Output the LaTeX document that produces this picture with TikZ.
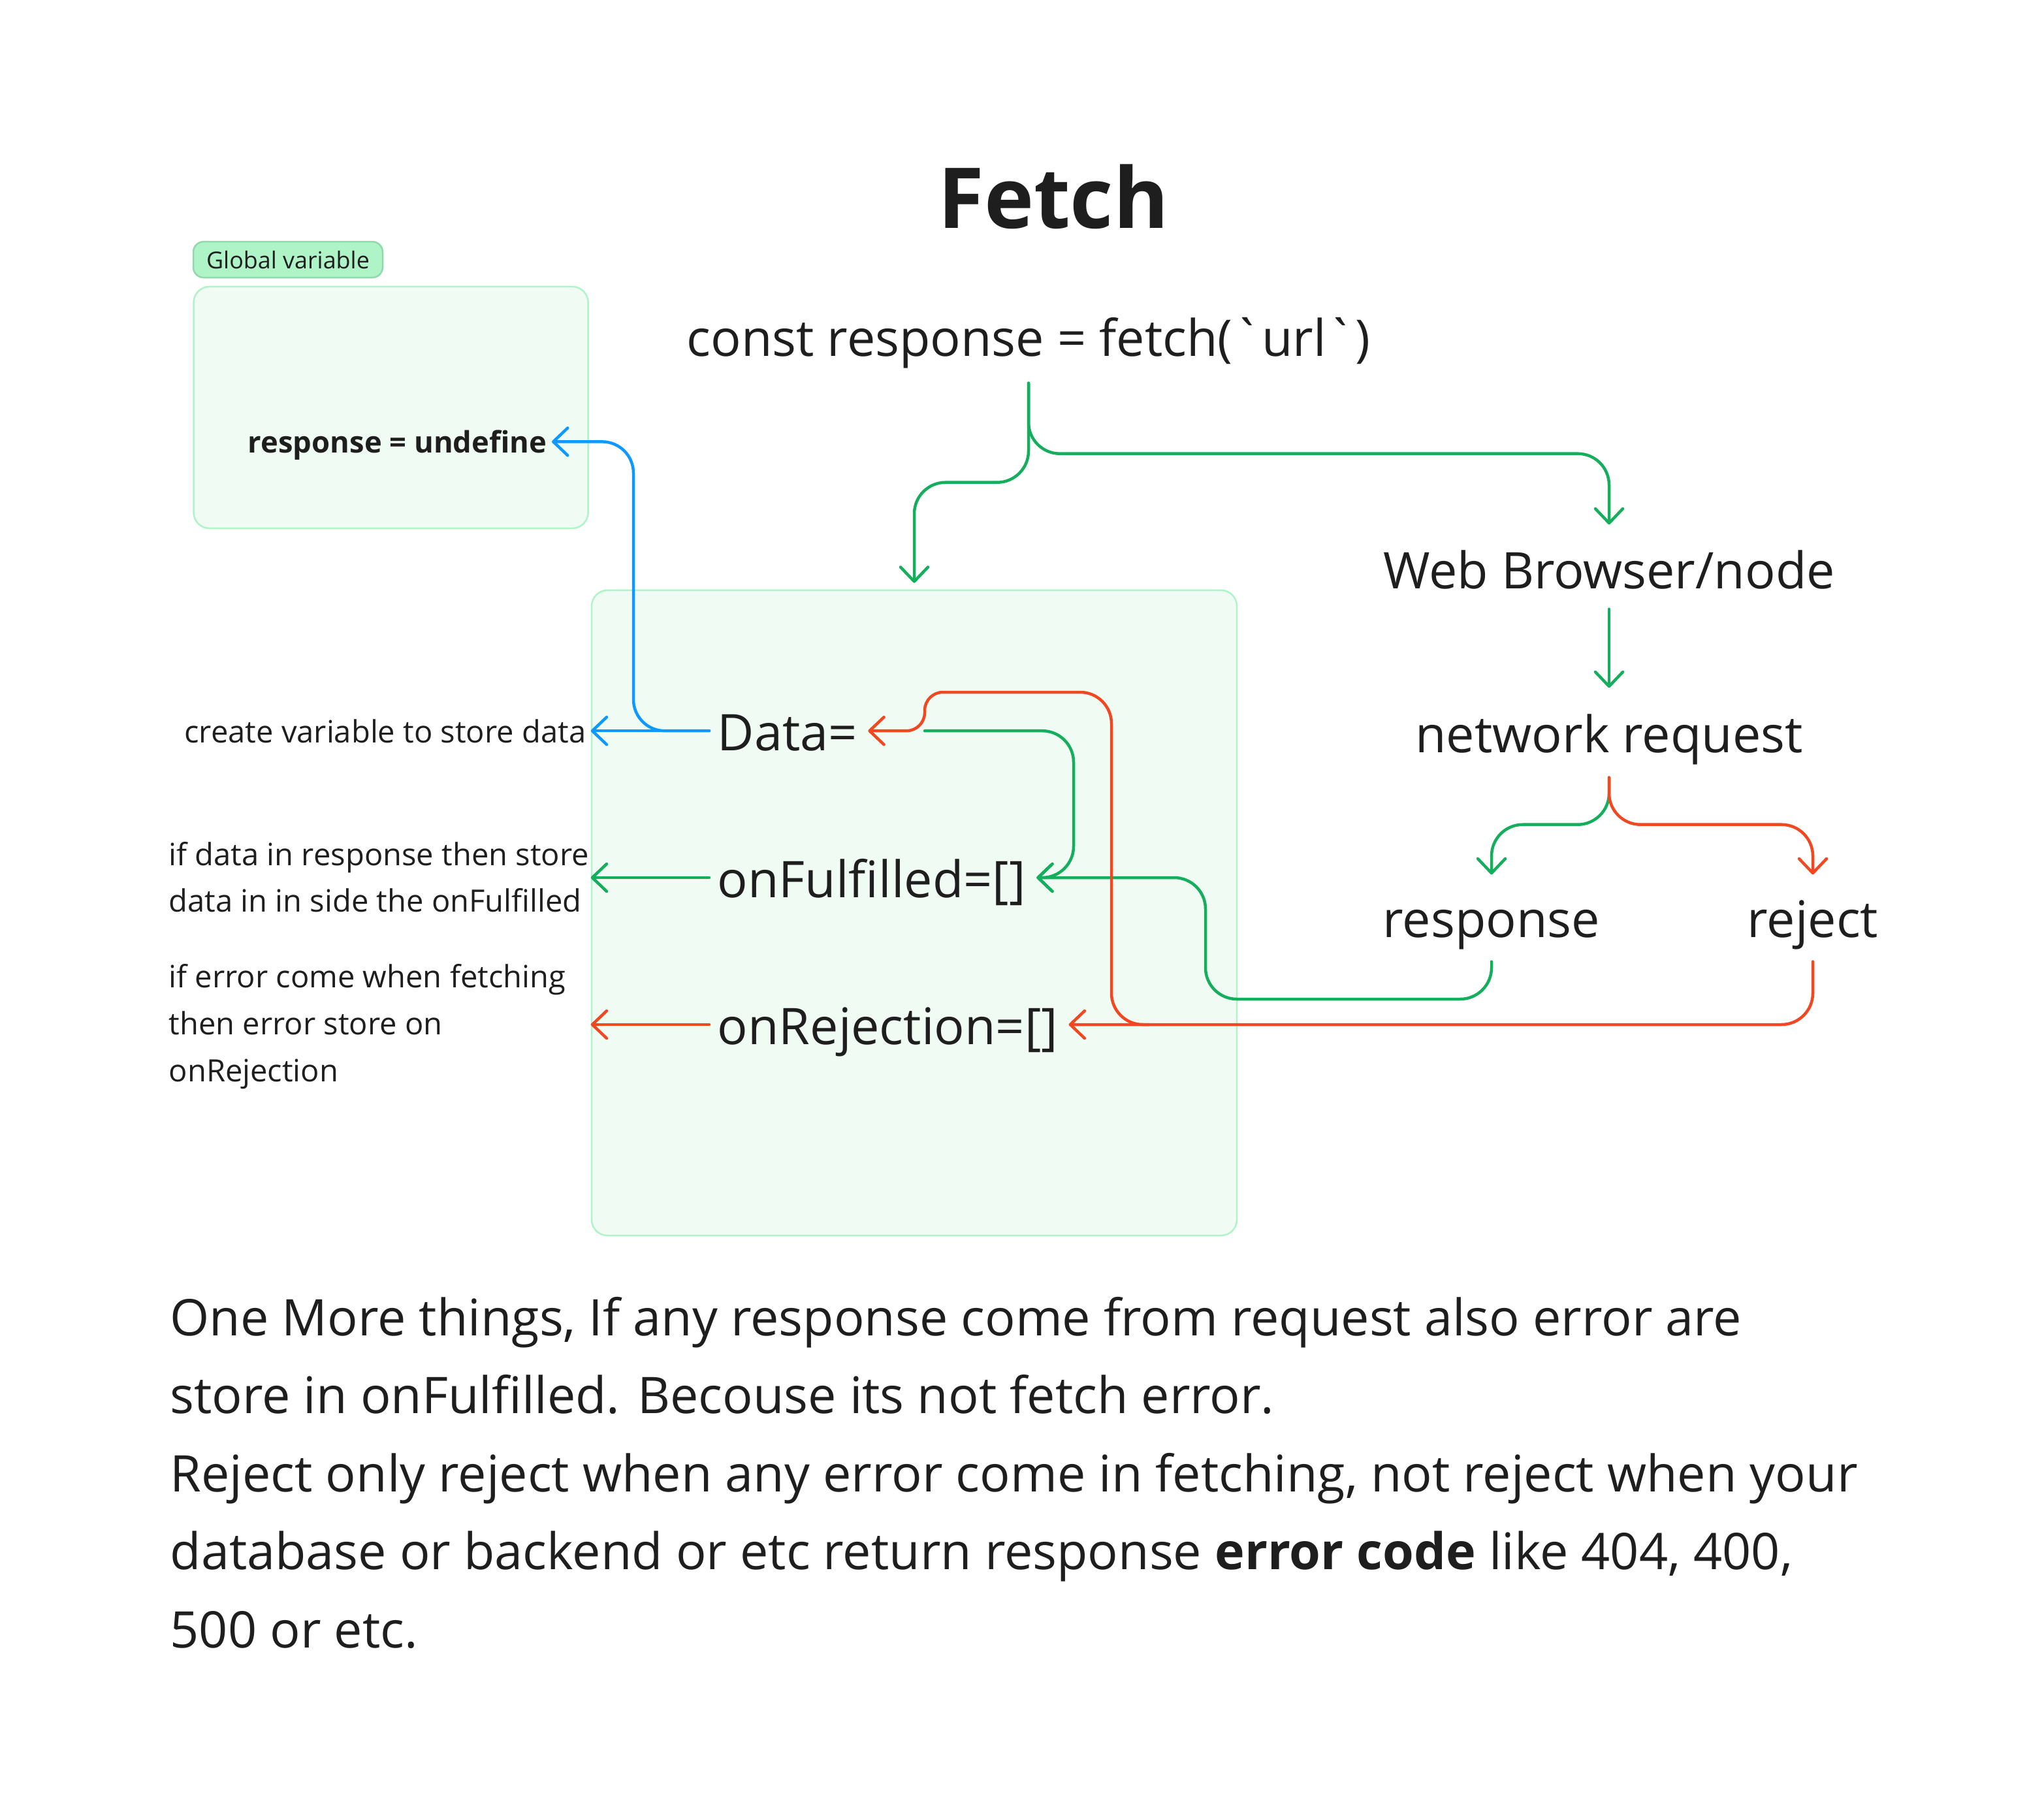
\documentclass[tikz,border=0pt]{standalone}
\usepackage{fontspec}
\setmainfont{Open Sans}
\usetikzlibrary{arrows.meta}
\definecolor{ink}{HTML}{1E1E1E}
\definecolor{figgreen}{HTML}{14AE5C}
\definecolor{figred}{HTML}{F24822}
\definecolor{figblue}{HTML}{0D99FF}
\definecolor{boxfill}{HTML}{F0FCF3}
\definecolor{boxline}{HTML}{AFF4C6}
\definecolor{tagfill}{HTML}{AFF4C6}
\definecolor{tagline}{HTML}{8FD9AA}

\begin{document}
\begin{tikzpicture}[x=0.2mm,y=-0.2mm]

% styles for labels, boxes and wires
\tikzset{
  lbl/.style={inner sep=0pt, text height=6mm, text depth=0pt, text=ink,
    font=\fontsize{22}{26}\selectfont},
  note/.style={inner sep=0pt, text=ink, align=left,
    font=\fontsize{13.4}{20.4}\selectfont},
  varbox/.style={draw=boxline, fill=boxfill, line width=0.25mm,
    rounded corners=2.4mm, inner sep=0pt},
  wire/.style={line width=0.45mm, line cap=round, rounded corners=4.8mm,
    -{Straight Barb[length=2.2mm,width=4.2mm,round]}},
  gwire/.style={wire, draw=figgreen},
  rwire/.style={wire, draw=figred},
  bwire/.style={wire, draw=figblue},
}

\fill[white] (0,0) rectangle (1565,1390.5);
\useasboundingbox (0,0) rectangle (1565,1390.5);

% ---------------- boxes ----------------
\node[varbox, minimum width=60.4mm, minimum height=37mm] (globbox) at (299.3,312) {};
\node[draw=tagline, fill=tagfill, line width=0.25mm, rounded corners=1.6mm,
  minimum width=29mm, minimum height=5.5mm, inner sep=0pt, text=ink,
  font=\fontsize{10.2}{12}\selectfont] (tag) at (220.5,198.8) {Global variable};
\node[varbox, minimum width=98.8mm, minimum height=98.8mm] (mainbox) at (700,699) {};

% ---------------- texts ----------------
\node[anchor=base, inner sep=0pt, text=ink,
  font=\bfseries\fontsize{36.6}{40}\selectfont] (title) at (806.5,174.8) {Fetch};
\node[lbl, anchor=base] (fetchcode) at (787.5,273) {const response = fetch(\textasciigrave url\textasciigrave)};
\node[lbl, anchor=base] (web) at (1232,450.5) {Web Browser/node};
\node[lbl, anchor=base] (netreq) at (1232,576) {network request};
\node[lbl, anchor=base] (resp) at (1142,717.5) {response};
\node[lbl, anchor=base] (rej) at (1388,717.5) {reject};

\node[lbl, anchor=base west] (data) at (549,574.6) {Data=};
\node[lbl, anchor=base west] (onful) at (549,687) {onFulfilled=[]};
\node[lbl, anchor=base west] (onrej) at (549,799.5) {onRejection=[]};

\node[anchor=base east, inner sep=0pt, text height=3.4mm, text depth=0pt, text=ink,
  font=\bfseries\fontsize{12.9}{15}\selectfont] (undef) at (419,346.7) {response = undefine};

% notes: multi-line nodes sit on the baseline of their last line
\node[note, anchor=base east] (createnote) at (449,568.8) {create variable to store data};
\node[note, anchor=base west] (fulnote) at (129,698.4) {if data in response then store\\data in in side the onFulfilled};
\node[note, anchor=base west] (rejnote) at (129,828) {if error come when fetching\\then error store on\\onRejection};

\node[anchor=base west, align=left, inner sep=0pt, text=ink,
  font=\fontsize{22}{34}\selectfont] (moretext) at (130,1261.6) {%
  One More things, If any response come from request also error are\\
  store in onFulfilled. Becouse its not fetch error.\\
  Reject only reject when any error come in fetching, not reject when your\\
  database or backend or etc return response \textbf{error code} like 404, 400,\\
  500 or etc.};

% ---------------- wires ----------------
\coordinate (gback) at (923,765);
\coordinate (gloop) at (822,0);
\coordinate (rloop) at (851,530);
\coordinate (rstep) at (708,0);
\coordinate (rjoin) at (880,0);
\coordinate (bup) at (485,0);

% fetch -> main box and web browser
\draw[gwire, shorten <=4mm, shorten >=1mm] (fetchcode.south) -- ++(0,96) -| (mainbox.north);
\draw[gwire, shorten <=4mm, shorten >=3.7mm] (fetchcode.south) -- ++(0,74) -| (web.north);
\draw[gwire, shorten <=3.1mm, shorten >=3.8mm] (web.south) -- (netreq.north);

% network request -> response / reject
\draw[gwire, shorten <=3.8mm, shorten >=3.5mm] (netreq.south) -- ++(0,55) -| (resp.north);
\draw[rwire, shorten <=3.8mm, shorten >=3.5mm] (netreq.south) -- ++(0,55) -| (rej.north);

% response -> onFulfilled, reject -> onRejection
\draw[gwire, shorten <=3.7mm, shorten >=1.6mm] (resp.south) |- (gback) |- (onful.east);
\draw[rwire, shorten <=3.7mm, shorten >=1.6mm] (rej.south) |- (onrej.east);

% loops round the variables
\draw[gwire, shorten >=1.6mm] (data.east -| rstep) -| (gloop |- onful.east) -- (onful.east);
\draw[rwire, shorten >=1.6mm] (onrej.east -| rjoin) -| (rloop)
  [rounded corners=2.8mm] -| (data.east -| rstep) -- (data.east);

% variables -> notes
\draw[bwire, shorten <=1.2mm, shorten >=0.7mm] (data.west) -| (bup |- undef.east) -- (undef.east);
\draw[bwire, shorten <=1.2mm] (data.west) -- (data.west -| mainbox.west);
\draw[gwire, shorten <=1.2mm] (onful.west) -- (onful.west -| mainbox.west);
\draw[rwire, shorten <=1.2mm] (onrej.west) -- (onrej.west -| mainbox.west);

\end{tikzpicture}
\end{document}
